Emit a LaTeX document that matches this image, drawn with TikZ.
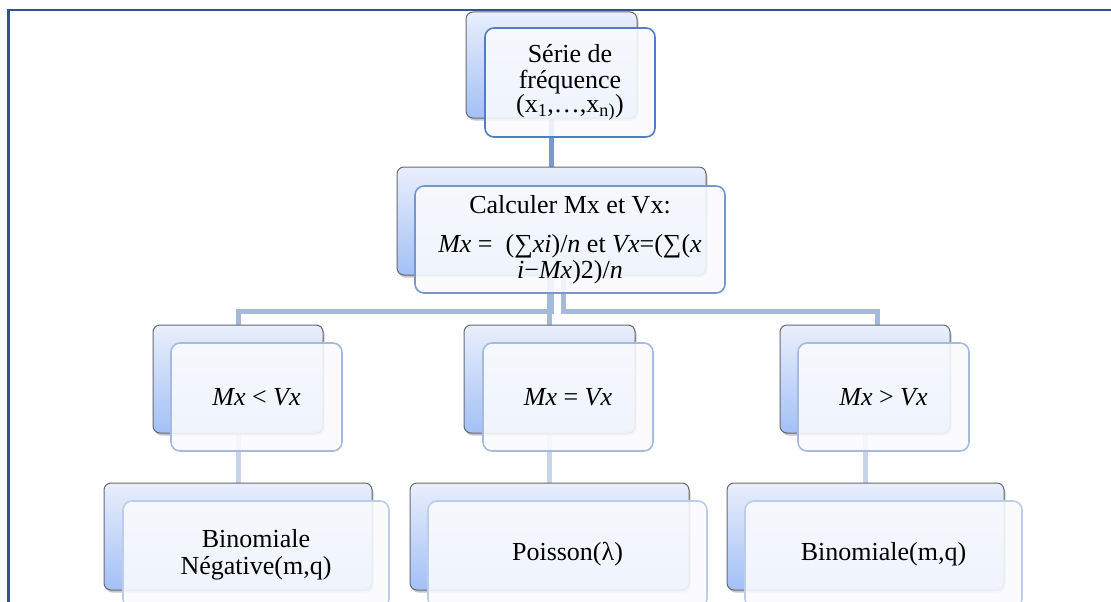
\documentclass[tikz,border=0pt]{standalone}
\usepackage{fontspec}
\setmainfont{Liberation Serif}
\usetikzlibrary{shadows}
\pgfdeclarelayer{bg}
\pgfsetlayers{bg,main}
\definecolor{frameblue}{RGB}{47,84,150}
\definecolor{backedge}{RGB}{105,105,110}
\definecolor{backtop}{RGB}{233,239,252}
\definecolor{backbot}{RGB}{163,192,246}
\definecolor{frontfill}{RGB}{250,251,254}
\definecolor{edgeA}{RGB}{80,125,195}
\definecolor{edgeB}{RGB}{118,150,207}
\definecolor{edgeC}{RGB}{165,186,222}
\definecolor{edgeD}{RGB}{190,205,231}
\definecolor{connA}{RGB}{122,152,206}
\definecolor{connB}{RGB}{166,185,219}
\definecolor{connC}{RGB}{200,212,233}
\begin{document}
\begin{tikzpicture}[x=1pt,y=-1pt,
  backbox/.style={draw=backedge, line width=1pt, rounded corners=7pt,
    top color=backtop, bottom color=backbot,
    drop shadow={shadow xshift=1.5pt, shadow yshift=-2.5pt, opacity=0.45},
    inner sep=0pt},
  frontbox/.style={draw=#1, line width=1.6pt, rounded corners=9pt,
    fill=frontfill, fill opacity=0.88, text opacity=1, inner sep=3pt,
    align=center, font=\fontsize{26}{26}\selectfont},
  conn/.style={draw=#1, line width=5pt},
  frameline/.style={draw=frameblue, line width=2.6pt}
]
\useasboundingbox (0,0) rectangle (1111,602);
\clip (0,0) rectangle (1111,602);

% level 1
\node[backbox, minimum width=171pt, minimum height=106pt] (tb) at (551.5,65) {};
\node[frontbox=edgeA, minimum width=170pt, minimum height=109pt] (tf) at (570,82.5)
  {Série de\\fréquence\\[-2pt](x\textsubscript{1},…,x\textsubscript{n)})};

% level 2
\node[backbox, minimum width=309pt, minimum height=108pt] (mb) at (551.5,221) {};
\node[frontbox=edgeB, minimum width=310pt, minimum height=107pt] (mf) at (570,239.5)
  {Calculer Mx et Vx:\\[13pt]\textit{Mx} =\ \ (∑\textit{xi})/\textit{n} et \textit{Vx}=(∑(\textit{x}\\\textit{i}−\textit{Mx})2)/\textit{n}};

% level 3
\node[backbox, minimum width=170pt, minimum height=108pt] (ab) at (238,379) {};
\node[frontbox=edgeC, minimum width=171pt, minimum height=108pt] (af) at (256.5,397)
  {\textit{Mx} < \textit{Vx}};
\node[backbox, minimum width=171pt, minimum height=108pt] (bb) at (549.5,379) {};
\node[frontbox=edgeC, minimum width=170pt, minimum height=108pt] (bf) at (568,397)
  {\textit{Mx} = \textit{Vx}};
\node[backbox, minimum width=170pt, minimum height=108pt] (cb) at (865,379) {};
\node[frontbox=edgeC, minimum width=171pt, minimum height=108pt] (cf) at (883.5,397)
  {\textit{Mx} > \textit{Vx}};

% level 4
\node[backbox, minimum width=268pt, minimum height=107pt] (db) at (238,536.5) {};
\node[frontbox=edgeD, minimum width=266pt, minimum height=107pt] (df) at (256,554.5)
  {Binomiale\\[1pt]Négative(m,q)};
\node[backbox, minimum width=279pt, minimum height=107pt] (eb) at (549.5,536.5) {};
\node[frontbox=edgeD, minimum width=279pt, minimum height=107pt] (ef) at (567.5,554.5)
  {Poisson(λ)};
\node[backbox, minimum width=277pt, minimum height=107pt] (fb) at (865.5,536.5) {};
\node[frontbox=edgeD, minimum width=277pt, minimum height=107pt] (ff) at (883.5,554.5)
  {Binomiale(m,q)};

% frame
\coordinate (fr1) at (8.5,602);
\coordinate (fr2) at (8.5,10);
\coordinate (fr3) at (1111,10);
\draw[frameline] (fr1) -- (fr2) -- (fr3);

\begin{pgfonlayer}{bg}
  \draw[conn=connA] (tb.south) -- (mb.north);
  \draw[conn=connB] (mb.south) -- ++(0,36) -| (ab.north);
  \draw[conn=connB] (bb.north |- mb.south) -- (bb.north);
  \draw[conn=connB] ([xshift=12pt]mb.south) -- ++(0,36) -| ([xshift=12pt]cb.north);
  \draw[conn=connC] (ab.south) -- (db.north);
  \draw[conn=connC] (bb.south) -- (eb.north -| bb.south);
  \draw[conn=connC] (cb.south) -- (fb.north -| cb.south);
\end{pgfonlayer}
\end{tikzpicture}
\end{document}
